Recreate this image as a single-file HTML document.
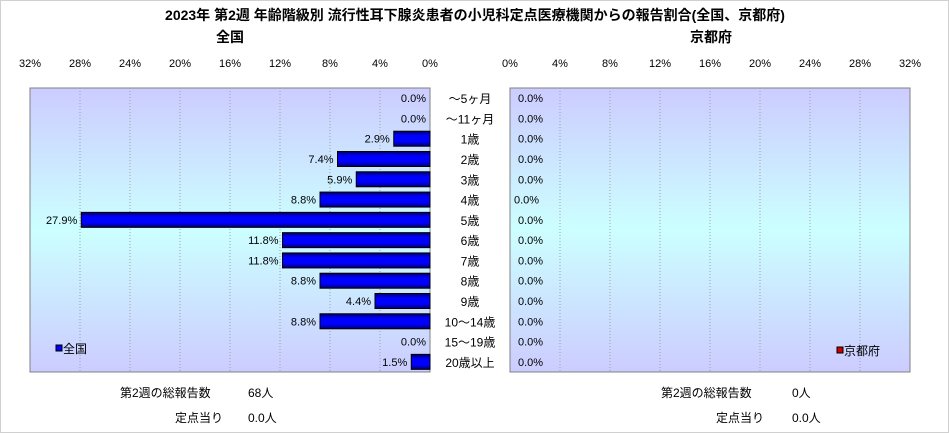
<!DOCTYPE html>
<html><head><meta charset="utf-8">
<style>
body{margin:0;background:#fff;}
svg{display:block;font-family:"Liberation Sans","Noto Sans CJK JP",sans-serif;}
</style></head>
<body>
<svg id="c" width="949" height="433">
<defs>
<linearGradient id="bg" x1="0" y1="0" x2="0" y2="1">
<stop offset="0" stop-color="#ccccff"/><stop offset="0.5" stop-color="#ccffff"/><stop offset="1" stop-color="#ccccff"/>
</linearGradient>
<linearGradient id="bar" x1="0" y1="0" x2="0" y2="1">
<stop offset="0" stop-color="#000066"/><stop offset="0.3" stop-color="#0000ff"/><stop offset="0.7" stop-color="#0000ff"/><stop offset="1" stop-color="#000066"/>
</linearGradient>
</defs>
<rect x="0.5" y="0.5" width="948" height="432" fill="#fff" stroke="#d0d0d0"/>
<text x="475" y="20" font-size="14" font-weight="bold" text-anchor="middle">2023年 第2週 年齢階級別 流行性耳下腺炎患者の小児科定点医療機関からの報告割合(全国、京都府)</text>
<text x="230" y="42" font-size="14" font-weight="bold" text-anchor="middle">全国</text>
<text x="711" y="42" font-size="14" font-weight="bold" text-anchor="middle">京都府</text>
<g id="g"></g>
<text x="120" y="397" font-size="12">第2週の総報告数</text>
<text x="248" y="397" font-size="12">68人</text>
<text x="175" y="422" font-size="12">定点当り</text>
<text x="248" y="422" font-size="12">0.0人</text>
<text x="661" y="397" font-size="12">第2週の総報告数</text>
<text x="792" y="397" font-size="12">0人</text>
<text x="716" y="422" font-size="12">定点当り</text>
<text x="792" y="422" font-size="12">0.0人</text>
</svg>
<script>
const categories=["～5ヶ月","～11ヶ月","1歳","2歳","3歳","4歳","5歳","6歳","7歳","8歳","9歳","10～14歳","15～19歳","20歳以上"];
const nationalValues=[0.0,0.0,2.9,7.4,5.9,8.8,27.9,11.8,11.8,8.8,4.4,8.8,0.0,1.5];
const kyotoValues=[0,0,0,0,0,0,0,0,0,0,0,0,0,0];
const ticks=[0,4,8,12,16,20,24,28,32];
const NS="http://www.w3.org/2000/svg";
const g=document.getElementById('g');
const plotTop=88,plotBottom=372,rowH=(plotBottom-plotTop)/categories.length;
const LZ=430,RZ=510,W=400,maxV=32;
const xl=v=>LZ-v/maxV*W, xr=v=>RZ+v/maxV*W, yc=i=>plotTop+rowH*(i+0.5);
function el(t,a){const n=document.createElementNS(NS,t);for(const k in a)n.setAttribute(k,a[k]);g.appendChild(n);return n;}
let e=el('rect',{x:LZ-W,y:plotTop,width:W,height:plotBottom-plotTop,fill:'url(#bg)',stroke:'#808080'});


e=el('rect',{x:RZ,y:plotTop,width:W,height:plotBottom-plotTop,fill:'url(#bg)',stroke:'#808080'});


ticks.forEach(t=>{
  if(t>0&&t<maxV){
    e=el('line',{x1:xl(t),x2:xl(t),y1:plotTop,y2:plotBottom,stroke:'#a0a0a0','stroke-dasharray':'1,2'});
    
    
    e=el('line',{x1:xr(t),x2:xr(t),y1:plotTop,y2:plotBottom,stroke:'#a0a0a0','stroke-dasharray':'1,2'});
    
    
  }
  e=el('text',{x:xl(t),y:67,'font-size':11,'text-anchor':'middle'});e.textContent=t+'%';
  
  
  e=el('text',{x:xr(t),y:67,'font-size':11,'text-anchor':'middle'});e.textContent=t+'%';
  
  
});
categories.forEach((c,i)=>{
  const y=yc(i);
  e=el('text',{x:470,y:y+5,'font-size':12,'text-anchor':'middle'});e.textContent=c;
  
  
  const v=nationalValues[i];
  if(v>0){
    e=el('rect',{x:xl(v),y:y-7.5,width:LZ-xl(v),height:15,fill:'url(#bar)',stroke:'#000'});
    
    
  }
  e=el('text',{x:xl(v)-4,y:y+4,'font-size':11,'text-anchor':'end'});e.textContent=v.toFixed(1)+'%';
  
  
  const k=kyotoValues[i];
  if(k>0){
    e=el('rect',{x:RZ,y:y-7.5,width:xr(k)-RZ,height:15,fill:'#cc0000',stroke:'#000'});
    
    
  }
  e=el('text',{x:xr(k)+(i==5?4:8),y:y+4,'font-size':11});e.textContent=k.toFixed(1)+'%';
  
  
});
e=el('rect',{x:56,y:345,width:6,height:6,fill:'#0000ff',stroke:'#000'});


e=el('text',{x:63,y:353,'font-size':12});e.textContent='全国';


e=el('rect',{x:837,y:347,width:6,height:6,fill:'#cc0000',stroke:'#000'});


e=el('text',{x:844,y:355,'font-size':12});e.textContent='京都府';


</script>
</body></html>
